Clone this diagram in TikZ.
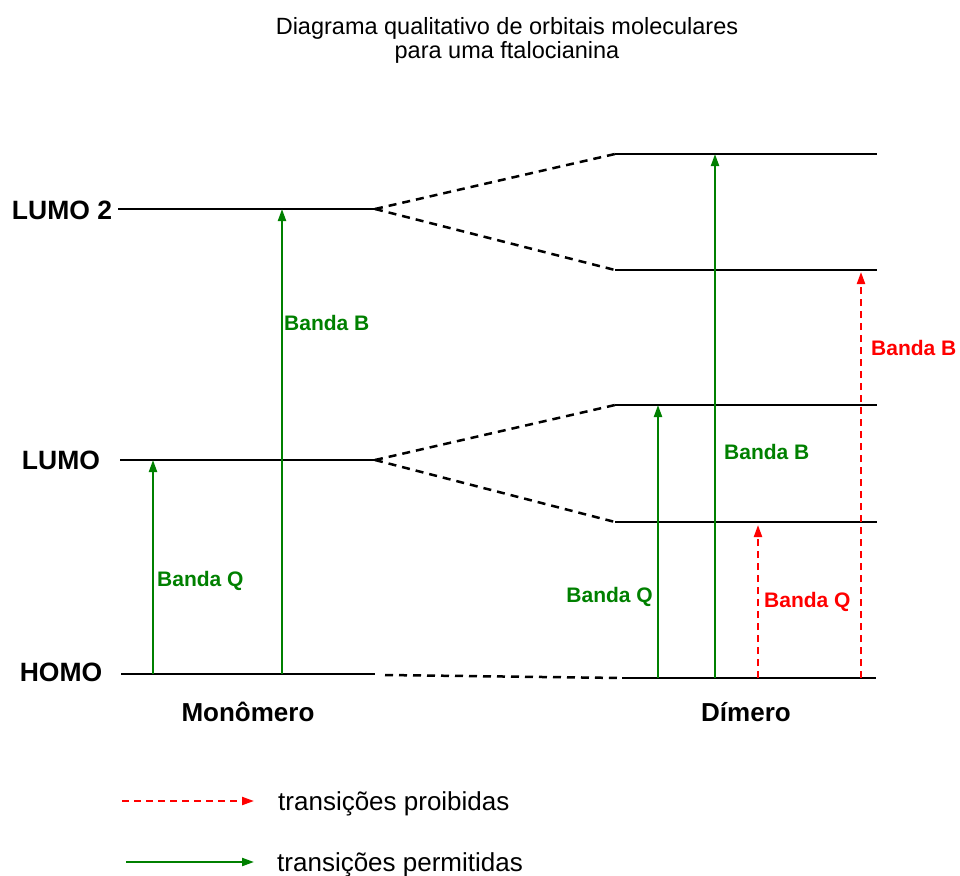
\documentclass[tikz,border=0pt]{standalone}
\usepackage{fontspec}
\setmainfont{Liberation Sans}
\usetikzlibrary{arrows.meta}
\definecolor{okgreen}{RGB}{0,128,0}
\definecolor{nored}{RGB}{255,0,0}
\begin{document}
\begin{tikzpicture}[x=1pt,y=-1pt,
  level/.style={line width=2.3pt,black},
  corr/.style={line width=2.5pt,black,dash pattern=on 8pt off 6pt},
  allowed/.style={line width=2.1pt,okgreen,-{Triangle[length=12pt,width=8pt]}},
  forbidden/.style={line width=2.1pt,nored,dash pattern=on 7pt off 5pt,-{Triangle[length=12pt,width=8pt]}},
  lvllabel/.style={font=\fontsize{26.5}{28}\selectfont\bfseries,inner sep=0pt},
  bandg/.style={font=\fontsize{21}{24}\selectfont\bfseries,text=okgreen,inner sep=0pt},
  bandr/.style={font=\fontsize{21}{24}\selectfont\bfseries,text=nored,inner sep=0pt},
  caption/.style={font=\fontsize{26}{28}\selectfont\bfseries,inner sep=0pt},
  legtext/.style={font=\fontsize{26}{28}\selectfont,inner sep=0pt}]
\useasboundingbox (0,0) rectangle (960,875);

% title
\node[align=center,font=\fontsize{23.5}{24}\selectfont,inner sep=0pt] (title) at (507,40)
  {Diagrama qualitativo de orbitais moleculares\\para uma ftalocianina};

% monomer levels
\coordinate (m2a) at (118,209); \coordinate (m2b) at (375,209);
\coordinate (m1a) at (120,460); \coordinate (m1b) at (375,460);
\coordinate (m0a) at (121,674); \coordinate (m0b) at (375,674);
\draw[level] (m2a) -- (m2b);
\draw[level] (m1a) -- (m1b);
\draw[level] (m0a) -- (m0b);

% dimer levels
\coordinate (d4a) at (615,154); \coordinate (d4b) at (877,154);
\coordinate (d3a) at (615,270); \coordinate (d3b) at (877,270);
\coordinate (d2a) at (615,405); \coordinate (d2b) at (877,405);
\coordinate (d1a) at (615,522); \coordinate (d1b) at (877,522);
\coordinate (d0a) at (622,678); \coordinate (d0b) at (876,678);
\foreach \l in {d4,d3,d2,d1,d0} \draw[level] (\l a) -- (\l b);

% correlation lines
\draw[corr] (m2b) -- (d4a);
\draw[corr] (m2b) -- (d3a);
\draw[corr] (m1b) -- (d2a);
\draw[corr] (m1b) -- (d1a);
\coordinate (m0c) at (385,675);
\draw[corr] (m0c) -- (d0a);

% level labels
\node[lvllabel] (lumo2) at (62,210) {LUMO 2};
\node[lvllabel] (lumo) at (61,460) {LUMO};
\node[lvllabel] (homo) at (61,672) {HOMO};
\node[caption,anchor=base] (mono) at (248,721) {Monômero};
\node[caption,anchor=base] (dim) at (746,721) {Dímero};

% monomer transitions
\coordinate (mq0) at (153,674); \coordinate (mq1) at (153,460);
\coordinate (mb0) at (282,674); \coordinate (mb1) at (282,209);
\draw[allowed] (mq0) -- (mq1);
\draw[allowed] (mb0) -- (mb1);
\node[bandg,anchor=west] (lq) at (157,581) {Banda Q};
\node[bandg,anchor=west] (lb) at (284,323) {Banda B};

% dimer transitions
\coordinate (dq0) at (658,678); \coordinate (dq1) at (658,405);
\coordinate (db0) at (715,678); \coordinate (db1) at (715,154);
\coordinate (rq0) at (758,678); \coordinate (rq1) at (758,525);
\coordinate (rb0) at (861,678); \coordinate (rb1) at (861,272);
\draw[allowed] (dq0) -- (dq1);
\draw[allowed] (db0) -- (db1);
\draw[forbidden] (rq0) -- (rq1);
\draw[forbidden] (rb0) -- (rb1);
\node[bandg,anchor=east] (dlq) at (653,597) {Banda Q};
\node[bandg,anchor=west] (dlb) at (724,452) {Banda B};
\node[bandr,anchor=west] (rlq) at (764,602) {Banda Q};
\node[bandr,anchor=west] (rlb) at (871,348) {Banda B};

% legend
\coordinate (l1a) at (122,801); \coordinate (l1b) at (254,801);
\coordinate (l2a) at (126,862); \coordinate (l2b) at (254,862);
\draw[forbidden] (l1a) -- (l1b);
\draw[allowed] (l2a) -- (l2b);
\node[legtext,anchor=base west] (lt1) at (278,810) {transições proibidas};
\node[legtext,anchor=base west] (lt2) at (277,871) {transições permitidas};
\end{tikzpicture}
\end{document}
